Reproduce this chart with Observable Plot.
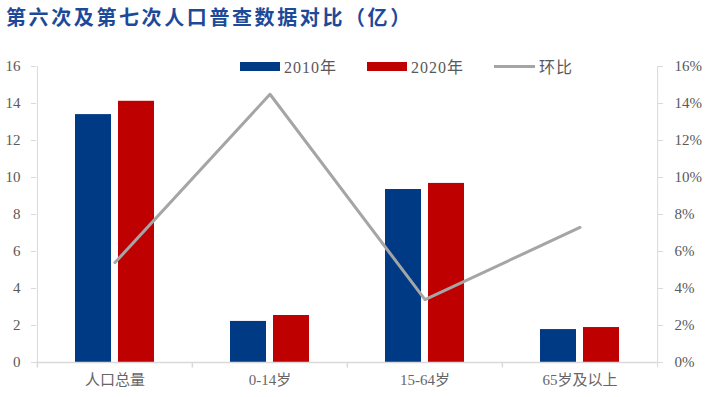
<!DOCTYPE html>
<html>
<head>
<meta charset="utf-8">
<script src="https://cdn.jsdelivr.net/npm/d3@7"></script>
<script src="https://cdn.jsdelivr.net/npm/@observablehq/plot@0.6"></script>
<style>
  html, body { margin: 0; padding: 0; background: #fff; }
  #wrap { position: relative; width: 712px; height: 397px; overflow: hidden; }
  #title { height: 36px; line-height: 34px; padding-left: 6px; font-family: "Noto Sans CJK SC", sans-serif; font-weight: 700; font-size: 20px; letter-spacing: 2.6px; color: #1d4a98; white-space: nowrap; }
  #legend { position: absolute; top: 54px; left: 240px; display: flex; align-items: center; font-family: "Liberation Serif", "Noto Sans CJK SC", serif; font-size: 16px; letter-spacing: 1px; color: #595959; }
  .item { display: flex; align-items: center; margin-right: 30px; }
  .sw { width: 40px; height: 9px; margin-right: 4px; }
  .ln { width: 41px; height: 3px; margin-right: 4px; }
</style>
</head>
<body>
<div id="wrap">
  <div id="title"></div>
  <div id="chart"></div>
  <div id="legend"></div>
</div>
<script>
const title = "第六次及第七次人口普查数据对比（亿）";
const categories = ["人口总量", "0-14岁", "15-64岁", "65岁及以上"];
const series = ["2010年", "2020年"];
const values2010 = [13.4, 2.22, 9.35, 1.78];
const values2020 = [14.12, 2.54, 9.68, 1.89];
const lineName = "环比";
const ratioPct = [5.4, 14.5, 3.4, 7.3];
const yTicks = [0, 2, 4, 6, 8, 10, 12, 14, 16];
const colors = {"2010年": "#013a84", "2020年": "#bf0000", "环比": "#a5a5a5"};

document.getElementById("title").textContent = title;

const W = 712, H = 361, ml = 36, mr = 55, mt = 30, mb = 35;
const step = (W - ml - mr) / categories.length;

const bars = [];
categories.forEach((c, i) => {
  bars.push({cat: c, series: series[0], value: values2010[i]});
  bars.push({cat: c, series: series[1], value: values2020[i]});
});
const line = categories.map((c, i) => ({cat: c, pct: ratioPct[i]}));

const gray = "#d9d9d9";
const font = "'Liberation Serif', 'Noto Sans CJK SC', serif";

const chart = Plot.plot({
  width: W, height: H,
  marginLeft: ml, marginRight: mr, marginTop: mt, marginBottom: mb,
  style: {fontFamily: font, fontSize: "15px", color: "#595959", background: "#fff", overflow: "visible"},
  x: {domain: categories, paddingInner: 0.491, paddingOuter: 0.2455, axis: null, label: null},
  y: {domain: [0, 16], axis: null, label: null},
  marks: [
    Plot.barY(bars.filter(d => d.series === series[0]), {x: "cat", y: "value", fill: colors[series[0]], insetRight: 43}),
    Plot.barY(bars.filter(d => d.series === series[1]), {x: "cat", y: "value", fill: colors[series[1]], insetLeft: 43}),
    Plot.ruleY([0], {stroke: gray, strokeWidth: 1.5}),
    Plot.ruleX(categories, {x: d => d, y1: 0, y2: -0.3, dx: -step / 2, stroke: gray, strokeWidth: 1.5}),
    Plot.ruleX([categories[categories.length - 1]], {x: d => d, y1: -0.3, y2: 16, dx: step / 2, stroke: gray, strokeWidth: 1}),
    Plot.ruleX([categories[0]], {x: d => d, y1: 0, y2: 16, dx: -step / 2, stroke: gray, strokeWidth: 1}),
    Plot.axisY({anchor: "left", ticks: yTicks, tickSize: 5, tickPadding: 11, stroke: gray, color: "#595959", fontSize: 15, label: null, tickFormat: d => String(d)}),
    Plot.axisY({anchor: "right", ticks: yTicks, tickSize: 5, tickPadding: 12, stroke: gray, color: "#595959", fontSize: 15, label: null, tickFormat: d => d + "%"}),
    Plot.axisX({anchor: "bottom", tickSize: 0, tickPadding: 12, color: "#666666", fontSize: 15, fill: "#666666", label: null}),
    Plot.line(line, {x: "cat", y: "pct", stroke: colors[lineName], strokeWidth: 3})
  ]
});
document.getElementById("chart").appendChild(chart);

const legend = document.getElementById("legend");
series.forEach(s => {
  const it = document.createElement("div"); it.className = "item";
  const sw = document.createElement("div"); sw.className = "sw"; sw.style.background = colors[s];
  const t = document.createElement("span"); t.textContent = s;
  it.append(sw, t); legend.append(it);
});
{
  const it = document.createElement("div"); it.className = "item";
  const sw = document.createElement("div"); sw.className = "ln"; sw.style.background = colors[lineName];
  const t = document.createElement("span"); t.textContent = lineName;
  it.append(sw, t); legend.append(it);
}
</script>
</body>
</html>
